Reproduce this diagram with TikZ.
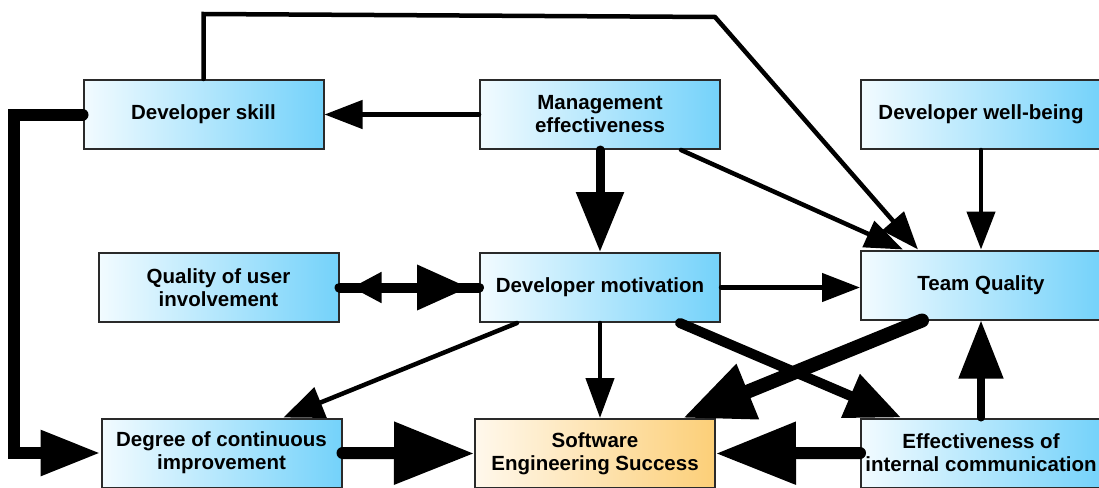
\documentclass[tikz,border=0pt]{standalone}
\usepackage{fontspec}
\setmainfont{Liberation Sans}
\usetikzlibrary{arrows.meta}
\definecolor{boxl}{HTML}{F2FBFF}
\definecolor{boxr}{HTML}{74D2FA}
\definecolor{goall}{HTML}{FFF8EC}
\definecolor{goalr}{HTML}{FCCF78}
\definecolor{edge}{HTML}{2A2A2A}

\begin{document}
\begin{tikzpicture}[x=1pt,y=-1pt]
\tikzset{factor/.style={draw=edge,line width=2pt,left color=boxl,right color=boxr,minimum width=240pt,minimum height=69pt,inner sep=0pt,align=center,font=\fontsize{20.5}{23}\selectfont\bfseries}}
\tikzset{goal/.style={factor,left color=goall,right color=goalr}}
\tikzset{link/.style={line width=4.5pt,line cap=round,-{Triangle[length=38pt,width=28pt]}}}
\tikzset{midlink/.style={line width=9pt,line cap=round,-{Triangle[length=58pt,width=45pt]}}}
\tikzset{fatlink/.style={line width=12pt,line cap=round,-{Triangle[length=80pt,width=60pt]}}}
%\draw[help lines] (0,0) grid[step=50] (1099,487);
\useasboundingbox (0,0) rectangle (1099,487);
\node[factor] (skill) at (203.5,114.5) {Developer skill};
\node[factor] (mgmt) at (600,114.5) {Management\\effectiveness};
\node[factor] (wellbeing) at (981,114.5) {Developer well-being};
\node[factor] (userinv) at (218.5,287.5) {Quality of user\\involvement};
\node[factor] (motiv) at (600,287.5) {Developer motivation};
\node[factor] (team) at (981,285) {Team Quality};
\node[factor] (improve) at (221.5,453) {Degree of continuous\\improvement};
\node[goal] (success) at (595,453.5) {Software\\Engineering Success};
\node[factor] (comm) at (981,453) {Effectiveness of\\internal communication};
\coordinate (loopa) at (203.5,14);
\coordinate (loopb) at (715,17);
\coordinate (rail) at (14,0);
\draw[link] (skill.north) -- (loopa) -- (loopb) -- ([xshift=-63pt]team.north);
\draw[link] (mgmt.west) -- (skill.east);
\draw[midlink,-{Triangle[length=60pt,width=46pt]}] (mgmt.south) -- (motiv.north);
\draw[link] ([xshift=81pt]mgmt.south) -- ([xshift=-78pt]team.north);
\draw[link] (wellbeing.south) -- (team.north);
% two-way link, tips set back from the boxes
\draw[line width=10pt,line cap=round] (userinv.east) -- (motiv.west);
\draw[line width=10pt,shorten <=12pt,shorten >=10pt,{Triangle[length=30pt,width=29pt]}-{Triangle[length=52pt,width=43pt]}] (userinv.east) -- (motiv.west);
\draw[link] (motiv.east) -- (motiv.east -| team.west);
\draw[link,-{Triangle[length=40pt,width=32pt]}] ([xshift=-83pt]motiv.south) -- ([xshift=62pt]improve.north);
\draw[link,-{Triangle[length=40pt,width=28pt]}] (motiv.south) -- (motiv.south |- success.north);
\draw[midlink,line width=10pt,-{Triangle[length=55pt,width=45pt]}] ([xshift=80pt]motiv.south) -- ([xshift=-80pt]comm.north);
\draw[fatlink,line width=14pt,-{Triangle[length=70pt,width=56pt]}] ([xshift=-59pt]team.south) -- ([xshift=88pt]success.north);
\draw[midlink,line width=8pt,-{Triangle[length=58pt,width=43pt]}] (comm.north) -- (team.south);
\draw[fatlink] (comm.west) -- (success.east);
\draw[fatlink] (improve.east) -- (success.west);
\draw[fatlink,-{Triangle[length=60pt,width=43pt]}] (skill.west) -- (skill.west -| rail) |- (improve.west);
\end{tikzpicture}
\end{document}
